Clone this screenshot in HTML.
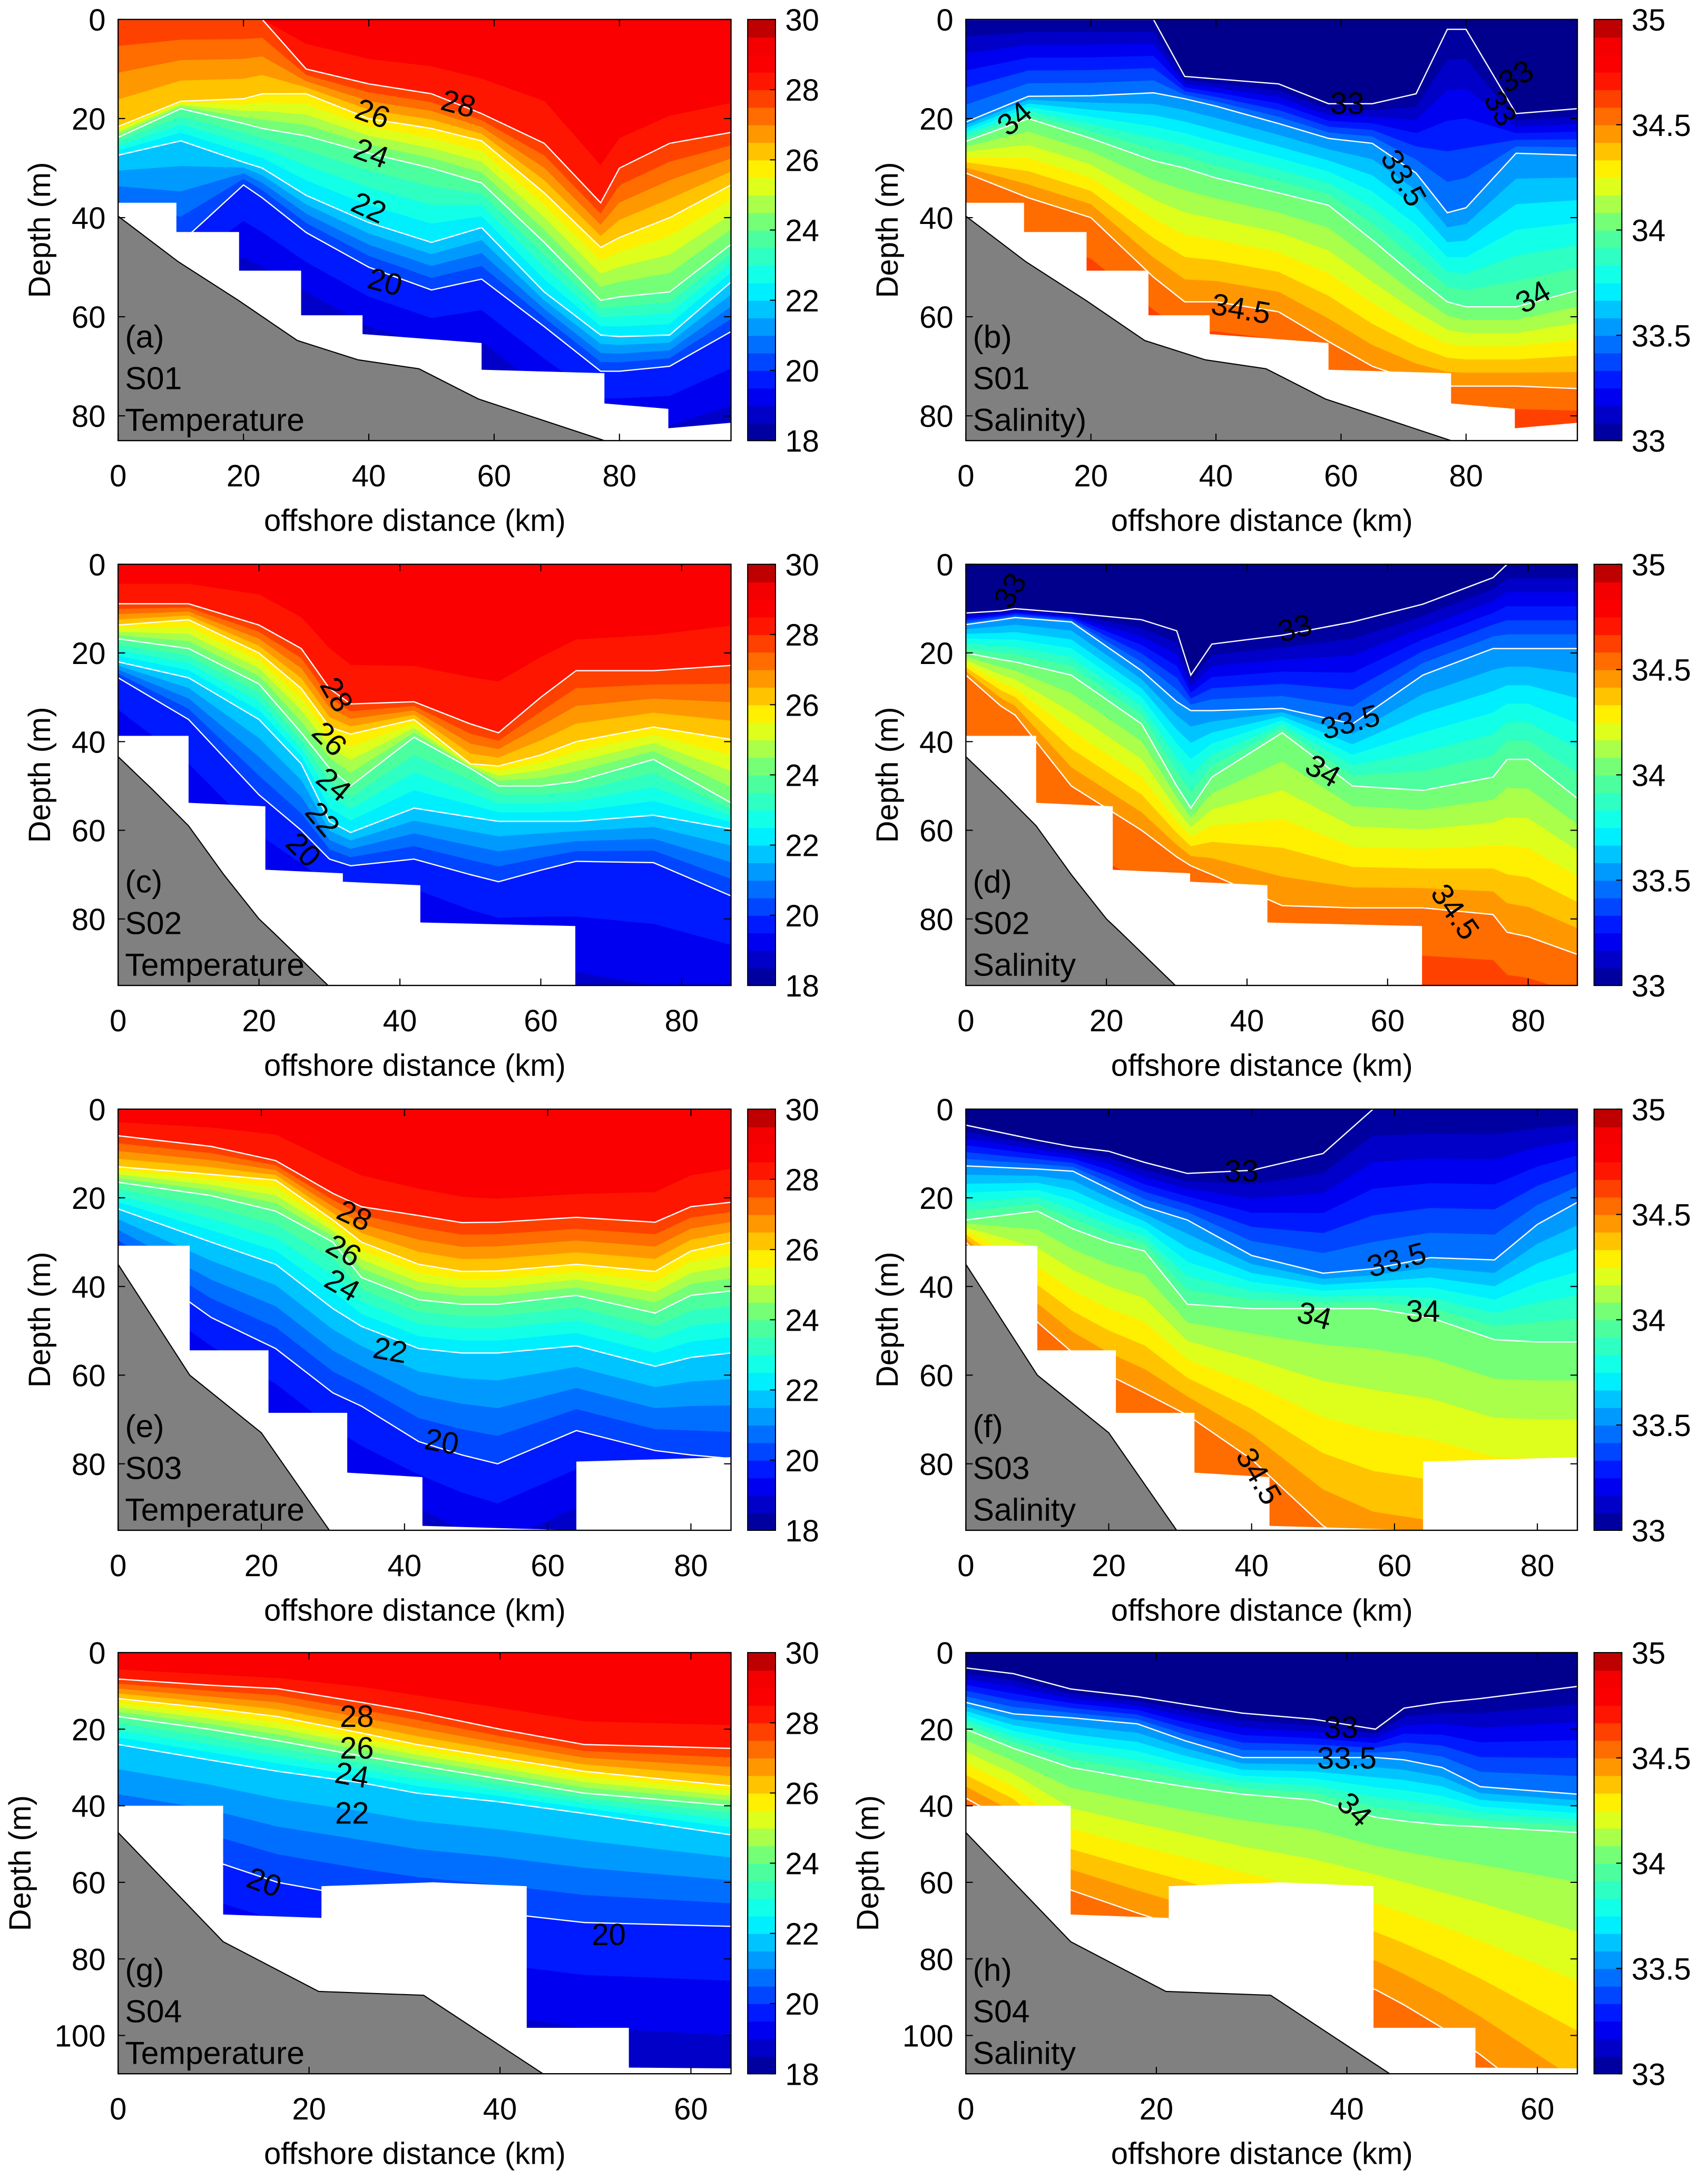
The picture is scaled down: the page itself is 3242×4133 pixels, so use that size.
<!DOCTYPE html>
<html><head><meta charset="utf-8"><title>Temperature and salinity sections</title>
<style>html,body{margin:0;padding:0;background:#fff}svg{display:block}text{font-family:"Liberation Sans",Arial,sans-serif;fill:#000}</style>
</head><body>
<svg id="fig" xmlns="http://www.w3.org/2000/svg" width="3242" height="4133" viewBox="0 0 1229 1567" preserveAspectRatio="none"></svg>
<script>
// ---------------- DATA ----------------
// Panel (a) S01 temperature
const aStations=[0,10,20,23,30,40,50,58,68,77,80,88,97.8];
const aIso29=[0,0,0,0,0,3,4,5,8,22,18,14,11];
const aIso28=[0,0,0,0,10,13,15,19,25,37,30,25,22.8];
const aIso26=[21.6,16.5,16,15,15,20,22,24.5,35,46,44,40,33.4];
const aIso24=[23.8,18,21,22,23.5,27,30,33,45,56.7,56,55,45.4];
const aIso22=[27.4,24.5,28.8,30,35.5,41,45,42,55,63.7,64,63.7,53];
const aIso20=[40,45,33.4,36,43,50,54.6,52.4,62,71,71,70,63];
const aIso19=[55,55,48,50,55,62,66,65,75,82,82,82,78];
// Panel (b) S01 salinity
const bStations=[0,10,20,30,35,40,50,58,65,72,77,80,88,97.8];
const bIso33=[0,0,0,0,11.5,12,13,17,17,15,2,2,19,18];
const bIso335=[20.7,15.5,15.4,14.8,16,17.5,21,24,25,31,39,38,27,27.4];
const bIso34=[24.6,20,24,28.5,30,32,35,37.5,44.5,52,57,58,58,54.7];
const bIso345=[31,36,40,52,57,57,59,65,70,73,74,74,74,74.5];
const bIso3475=[55,60,65,72,75,75,76,82,88,88,88,88,88,88];
// S01 geometry
const s01BottomX=[0,9.3,9.3,19.3,19.3,29.2,29.2,39,39,58,58,77.6,77.6,87.8,87.8,97.8];
const s01BottomD=[37,37,42.9,42.9,50.7,50.7,59.7,59.7,63.5,65.3,70.7,71.4,77.5,78.6,82.5,81.4];
const s01FloorX=[0,9.6,19.2,28.6,38.3,48,57.5,77.6];
const s01FloorD=[39.7,48.9,56.7,64.8,68.7,70.5,76.6,85];
// Panel (c) S02 temperature
const cStations=[0,10,20,26,30,33,42,50,54,60,65,76,87];
const cIso29=[0,0,0,5,10,14,15,15,15,12,10,8,5];
const cIso28=[8.9,8.9,13.7,19,28,31.5,31,36,38,30,24,24,22.8];
const cIso26=[13.7,12.5,20,28,36.7,38.3,35,45,45.5,43,40,36.7,39.5];
const cIso24=[16.8,19,27,38,46,50,39,46,50,50,49,44,53.8];
const cIso22=[22,25.6,35,45,58,60.5,55,57,58,58,58,56.6,59.7];
const cIso20=[25.6,35,52,60,66.5,68,66.5,70,71.6,69,67,67.3,74.8];
const cIso19=[40,55,70,75,78,80,80,86,88,90,92,95,97];
// Panel (d) S02 salinity
const dStations=[0,5,7,15,25,30,32,35,45,55,65,75,77,80,87];
const dIso33=[11,10.5,10,11,12.5,15,25,18,16,13,9,3,0,0,0];
const dIso335=[13.6,12.5,12,13,24,31,33,33,32.5,36,25,19,19,19,19];
const dIso34=[20,21.5,22,25,36,50,55,48,38,50,51,48,44,44,52.8];
const dIso345=[25,32,34,50,60,66,68,70,77,77.5,77.5,79,83,84,88];
const dIso3475=[75,78,80,88,95,98,100,100,105,108,110,110,112,112,115];
// S02 geometry
const s02BottomX=[0,10,10,20.9,20.9,31.9,31.9,42.9,42.9,64.9,64.9,87];
const s02BottomD=[38.7,38.7,53.8,54.6,68.9,69.7,71.6,72.4,80.8,81.6,95,95];
const s02FloorX=[0,5,10,15,20,22,29.8];
const s02FloorD=[43.4,51,59,70,80,83,95];
// Panel (e) S03 temperature
const eStations=[0,13,22,30,34,42,48,53,64,75,80,85.6];
const eIso29=[0,0,0,5,8,12,14,15,14,12,8,6];
const eIso28=[6,8.4,11.6,19,22,24,25.6,25.5,24.4,25.5,22,21];
const eIso26=[13,14.7,16,25,30,35,36.6,36.5,35,36.6,32,30];
const eIso24=[16.5,19.5,23,30,38,43,44,44,42,46,42,41];
const eIso22=[22.5,30,35,45,49,54,55,55,53.4,58,56,55];
const eIso20=[32,47,54,64,67,75,78,80,72.5,77,78,78.8];
const eIso19=[45,60,70,80,85,90,95,98,90,95,96,96];
// Panel (f) S03 salinity
const fStations=[0,10,15,20,25,31,40,50,57,65,74,80,85.6];
const fIso33=[3.6,7,8.5,9.5,12,14.5,13.8,10,0,0,0,0,0];
const fIso335=[12.8,13.5,14,18,22,25,33,37,36,33.5,34,26,21];
const fIso34=[25,23,27,30,32,44,45,45,45,47,52,52.5,52.5];
const fIso345=[30,48,55,60,64,69,79,94,100,102,105,105,105];
const fIso3475=[80,90,95,100,105,110,120,125,130,130,130,130,130];
// S03 geometry
const s03BottomX=[0,10,10,21,21,32,32,42.5,42.5,64,64,85.6];
const s03BottomD=[30.8,30.8,54.4,54.4,68.5,68.5,82,83,94,95,79.5,78.5];
const s03FloorX=[0,10,20,29.5];
const s03FloorD=[35,60,73,95];
// Panel (g) S04 temperature
const gStations=[0,9.5,16.7,25.5,31.3,40,48.8,64.2];
const gIso29=[2,3,4,5,7,9,12,13];
const gIso28=[6.9,8.5,9.4,13,15.5,20,24,25];
const gIso26=[12,14.5,16.7,21,24,27.5,31,34.8];
const gIso24=[16.7,20,23,27,29.4,33,36.7,40];
const gIso22=[24,28,31,34,36.7,39,42,47.6];
const gIso20=[50,54,60,64,66,68,70.5,71.5];
const gIso19=[70,75,80,90,95,95,98,100];
// Panel (h) S04 salinity
const hStations=[0,5,11,18,23,29,36.5,43,46,50,54,64.3];
const hIso33=[4,5.5,9.5,11.5,13.5,15.8,17.4,20,14.5,13,12,8.8];
const hIso335=[13,16,17,18.6,23,27.4,27.4,27.4,28,30,35,37];
const hIso34=[20,25,30,33,35,37,38.5,43,44,45,45.5,47];
const hIso345=[38,45,62,68,72,78,85,88,92,98,105,125];
const hIso3475=[75,85,95,105,110,115,120,125,130,135,140,150];
// S04 geometry
const s04BottomX=[0,11,11,21.3,21.3,33,42.8,42.8,53.5,53.5,64.2];
const s04BottomD=[40,40,68.4,69.3,61,60,61,98,98,108.4,108.6];
const s04FloorX=[0,11,21,32,44.5];
const s04FloorD=[47,75.5,88.5,89.5,110];
// tick labels
const tempTicks=[18,20,22,24,26,28,30];
const salTicks=[33,33.5,34,34.5,35];
const depthTicks85=[0,20,40,60,80];
const depthTicks110=[0,20,40,60,80,100];
const distTicks80=[0,20,40,60,80];
const distTicks60=[0,20,40,60];
// contour labels: [text, km, depth, rotation]
const aLabels=[["28",54.3,17,15],["26",40.6,19,20],["24",40.4,27,20],["22",40,38,25],["20",42.6,53,15]];
const bLabels=[["34",7.8,20,-40],["33",61,17,0],["33",88,11.5,-30],["33",85.5,18,60],["33.5",70,32,60],["34.5",44,58.4,10],["34",90.7,56,-30]];
const cLabels=[["28",31,29.4,60],["26",30,39.4,45],["24",30.6,49.7,40],["22",29,57.5,50],["20",26.3,64.4,45]];
const dLabels=[["33",6.3,5.9,-60],["33",46.8,14.4,-15],["33.5",54.7,35.6,-15],["34",50.8,46.6,30],["34.5",69.6,78.4,55]];
const eLabels=[["28",33,24,25],["26",31.5,31.9,30],["24",31.3,39.7,30],["22",38,54.4,10],["20",45.2,75,10]];
const fLabels=[["33",38.6,14,0],["33.5",60.3,34,-15],["34",48.8,46.6,15],["34",64,45.6,0],["34.5",41,82.8,60]];
const gLabels=[["28",25,16.7,0],["26",25,25,0],["24",24.5,32,10],["22",24.5,42,0],["20",15.3,60,20],["20",51.4,73.7,0]];
const hLabels=[["33",39.4,19.6,0],["33.5",40,27.6,0],["34",40.8,41,45]];

// ---------------- RENDER ----------------
const NS='http://www.w3.org/2000/svg';
const svg=document.getElementById('fig');
function el(tag,attrs,parent){const e=document.createElementNS(NS,tag);for(const k in attrs)e.setAttribute(k,attrs[k]);(parent||svg).appendChild(e);return e;}
function jet(t){t=Math.max(0,Math.min(1,t));
 const st=[[0,0,0,.55],[.12,0,0,1],[.37,0,1,1],[.5,.35,1,.55],[.63,1,1,0],[.875,1,0,0],[.95,.95,0,0],[1,.6,0,0]];
 for(let i=1;i<st.length;i++){if(t<=st[i][0]){const a=st[i-1],b=st[i],f=(t-a[0])/(b[0]-a[0]);
  return 'rgb('+[1,2,3].map(k=>Math.round(255*(a[k]+f*(b[k]-a[k])))).join(',')+')';}}
 return 'rgb(153,0,0)';}
let clipId=0;
function panel(p){
 const g=el('g',{});
 
 
 const L=p.left,T=p.top,W=p.w,H=p.h;
 const sx=v=>L+v/p.xmax*W, sy=v=>T+v/p.ymax*H;
 const cid='clip'+(clipId++);
 const cp=el('clipPath',{id:cid},g);el('rect',{x:L,y:T,width:W,height:H},cp);
 const field=el('g',{'clip-path':'url(#'+cid+')'},g);
 
 
 const vmin=p.cmin,vmax=p.cmax,col=v=>jet((v-vmin)/(vmax-vmin));
 const bg=el('rect',{x:L,y:T,width:W,height:H,fill:col(p.surf)},field);
 
 
 const known=p.known;
 function curveFor(Lv){
  for(let i=0;i<known.length-1;i++){const a=known[i],b=known[i+1];
   const lo=Math.min(a[0],b[0]),hi=Math.max(a[0],b[0]);
   if(Lv>=lo-1e-9&&Lv<=hi+1e-9){const f=(Lv-a[0])/(b[0]-a[0]);return a[1].map((d,j)=>d+f*(b[1][j]-d));}}
  return null;}
 p.bandLevels.forEach(Lv=>{
  const c=curveFor(Lv);if(!c)return;
  let pts=p.x.map((x,j)=>sx(x)+','+sy(c[j]));
  pts.push(sx(p.xmax)+','+(T+H+5),sx(0)+','+(T+H+5));
  const poly=el('polygon',{points:pts.join(' '),fill:col(Lv+p.bandOffset),stroke:col(Lv+p.bandOffset),'stroke-width':0.3},field);
  
  
 });
 p.lineLevels.forEach(Lv=>{
  const c=curveFor(Lv);if(!c)return;
  const pl=el('polyline',{points:p.x.map((x,j)=>sx(x)+','+sy(c[j])).join(' '),fill:'none',stroke:'#fff','stroke-width':0.9},field);
  
  
 });
 let mp=p.botX.map((x,j)=>sx(x)+','+sy(p.botD[j]));
 mp.push(sx(p.xmax)+','+(T+H+5),sx(0)+','+(T+H+5));
 const mask=el('polygon',{points:mp.join(' '),fill:'#fff'},field);
 
 
 let fp=p.floorX.map((x,j)=>sx(x)+','+sy(p.floorD[j]));
 const fl=el('polygon',{points:fp.concat([sx(0)+','+(T+H+5)]).join(' '),fill:'#808080'},field);
 
 
 el('polyline',{points:fp.join(' '),fill:'none',stroke:'#000','stroke-width':0.8},field);
 p.labels.forEach(lb=>{
  const t=el('text',{x:sx(lb[1]),y:sy(lb[2]),'font-size':22,'text-anchor':'middle','dominant-baseline':'central',transform:'rotate('+lb[3]+' '+sx(lb[1])+' '+sy(lb[2])+')'},field);
  t.textContent=lb[0];
  
  
 });
 p.annot.forEach((s,i)=>{
  const t=el('text',{x:L+5,y:T+H-67+i*30,'font-size':23},g);t.textContent=s;
  
  
 });
 const fr=el('rect',{x:L,y:T,width:W,height:H,fill:'none',stroke:'#000','stroke-width':0.9},g);
 
 
 p.yticks.forEach(v=>{const y=sy(v);
  el('line',{x1:L,x2:L+5,y1:y,y2:y,stroke:'#000','stroke-width':0.8},g);
  el('line',{x1:L+W,x2:L+W-5,y1:y,y2:y,stroke:'#000','stroke-width':0.8},g);
  const t=el('text',{x:L-9,y:y+8,'font-size':22,'text-anchor':'end'},g);t.textContent=v;
  
  
 });
 p.xticks.forEach(v=>{const x=sx(v);
  el('line',{x1:x,x2:x,y1:T+H,y2:T+H-5,stroke:'#000','stroke-width':0.8},g);
  el('line',{x1:x,x2:x,y1:T,y2:T+5,stroke:'#000','stroke-width':0.8},g);
  const t=el('text',{x:x,y:T+H+33,'font-size':22,'text-anchor':'middle'},g);t.textContent=v;
  
  
 });
 const xl=el('text',{x:L+W/2-7,y:T+H+65,'font-size':22,'text-anchor':'middle'},g);xl.textContent='offshore distance (km)';
 
 
 const yl=el('text',{x:p.ylx,y:T+H/2,'font-size':22,'text-anchor':'middle',transform:'rotate(-90 '+p.ylx+' '+(T+H/2)+')'},g);yl.textContent='Depth (m)';
 
 
 const cx=L+W+12,cw=20,n=24;
 const cb=el('g',{},g);
 
 
 for(let i=0;i<n;i++){el('rect',{x:cx,y:T+H-(i+1)*H/n,width:cw,height:H/n+0.4,fill:jet((i+0.5)/n)},cb);}
 el('rect',{x:cx,y:T,width:cw,height:H,fill:'none',stroke:'#000','stroke-width':0.8},cb);
 p.cticks.forEach(v=>{const y=T+H-(v-vmin)/(vmax-vmin)*H;
  el('line',{x1:cx+cw,x2:cx+cw-4,y1:y,y2:y,stroke:'#000','stroke-width':0.8},cb);
  const t=el('text',{x:cx+cw+7,y:y+8,'font-size':22},cb);t.textContent=v;
  
  
 });
}
const tempBands=[];for(let v=28.5;v>=18.99;v-=0.5)tempBands.push(+v.toFixed(2));
const salBands=[];for(let k=0;k<=21;k++)salBands.push(+(33+k/12).toFixed(4));
function T(name,left,top,h,xmax,ymax,st,i29,i28,i26,i24,i22,i20,i19,labels,annot,bx,bd,fx,fd,yt,xt,ylx){
 return {name,left,top,w:441,h,xmax,ymax,x:st,known:[[29,i29],[28,i28],[26,i26],[24,i24],[22,i22],[20,i20],[19,i19]],
  cmin:18,cmax:30,surf:28.8,bandLevels:tempBands,bandOffset:-0.25,lineLevels:[28,26,24,22,20],labels,annot,
  botX:bx,botD:bd,floorX:fx,floorD:fd,yticks:yt,xticks:xt,cticks:tempTicks,ylx};}
function S(name,left,top,h,xmax,ymax,st,i33,i335,i34,i345,i3475,labels,annot,bx,bd,fx,fd,yt,xt,ylx){
 return {name,left,top,w:440,h,xmax,ymax,x:st,known:[[33,i33],[33.5,i335],[34,i34],[34.5,i345],[34.75,i3475]],
  cmin:33,cmax:35,surf:32.95,bandLevels:salBands,bandOffset:1/24,lineLevels:[33,33.5,34,34.5],labels,annot,
  botX:bx,botD:bd,floorX:fx,floorD:fd,yticks:yt,xticks:xt,cticks:salTicks,ylx};}
panel(T('panel-a-s01-temperature',85,14,303,97.8,85,aStations,aIso29,aIso28,aIso26,aIso24,aIso22,aIso20,aIso19,aLabels,['(a)','S01','Temperature'],s01BottomX,s01BottomD,s01FloorX,s01FloorD,depthTicks85,distTicks80,36));
panel(S('panel-b-s01-salinity',695,14,303,97.8,85,bStations,bIso33,bIso335,bIso34,bIso345,bIso3475,bLabels,['(b)','S01','Salinity)'],s01BottomX,s01BottomD,s01FloorX,s01FloorD,depthTicks85,distTicks80,646));
panel(T('panel-c-s02-temperature',85,406,303,87,95,cStations,cIso29,cIso28,cIso26,cIso24,cIso22,cIso20,cIso19,cLabels,['(c)','S02','Temperature'],s02BottomX,s02BottomD,s02FloorX,s02FloorD,depthTicks85,distTicks80,36));
panel(S('panel-d-s02-salinity',695,406,303,87,95,dStations,dIso33,dIso335,dIso34,dIso345,dIso3475,dLabels,['(d)','S02','Salinity'],s02BottomX,s02BottomD,s02FloorX,s02FloorD,depthTicks85,distTicks80,646));
panel(T('panel-e-s03-temperature',85,798,303,85.6,95,eStations,eIso29,eIso28,eIso26,eIso24,eIso22,eIso20,eIso19,eLabels,['(e)','S03','Temperature'],s03BottomX,s03BottomD,s03FloorX,s03FloorD,depthTicks85,distTicks80,36));
panel(S('panel-f-s03-salinity',695,798,303,85.6,95,fStations,fIso33,fIso335,fIso34,fIso345,fIso3475,fLabels,['(f)','S03','Salinity'],s03BottomX,s03BottomD,s03FloorX,s03FloorD,depthTicks85,distTicks80,646));
panel(T('panel-g-s04-temperature',85,1189,303,64.2,110,gStations,gIso29,gIso28,gIso26,gIso24,gIso22,gIso20,gIso19,gLabels,['(g)','S04','Temperature'],s04BottomX,s04BottomD,s04FloorX,s04FloorD,depthTicks110,distTicks60,22));
panel(S('panel-h-s04-salinity',695,1189,303,64.2,110,hStations,hIso33,hIso335,hIso34,hIso345,hIso3475,hLabels,['(h)','S04','Salinity'],s04BottomX,s04BottomD,s04FloorX,s04FloorD,depthTicks110,distTicks60,632));
</script>
</body></html>
